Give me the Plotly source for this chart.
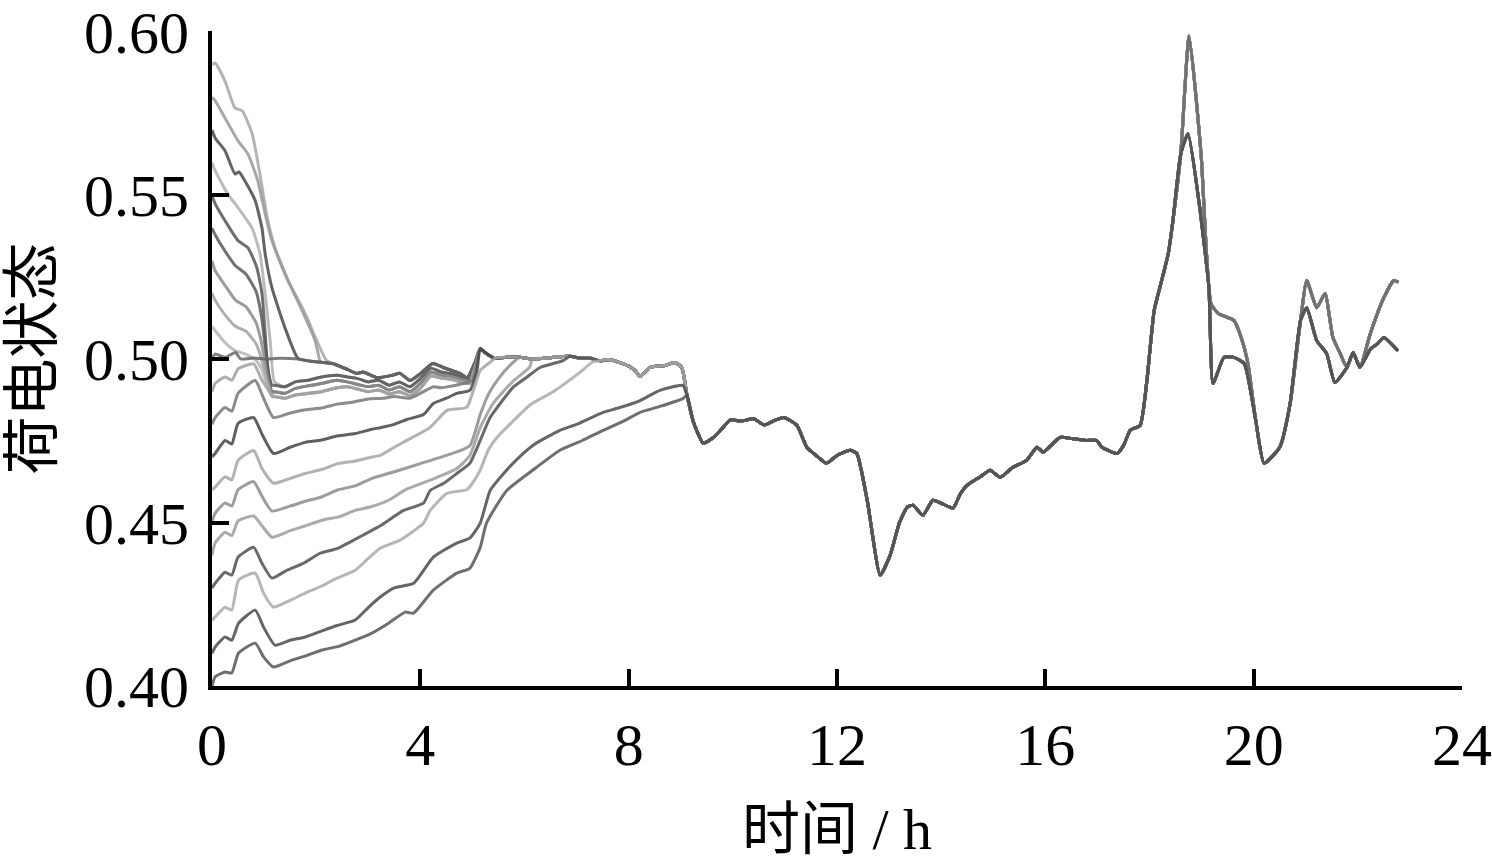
import plotly.graph_objects as go

# ---------------- axis ticks ----------------
x_ticks = [0, 4, 8, 12, 16, 20, 24]
y_ticks = [0.40, 0.45, 0.50, 0.55, 0.60]
y_tick_labels = ["0.40", "0.45", "0.50", "0.55", "0.60"]

# ---------------- shared trajectory (all curves after merging) ----------------
common_t = [5.15, 5.24, 5.43, 5.7, 5.91, 6.15, 6.39, 6.6, 6.87, 7.05, 7.26, 7.45, 7.65, 7.83, 8.0, 8.12,
            8.22, 8.41, 8.55, 8.70, 8.89, 9.02, 9.12, 9.24, 9.43, 9.62, 9.78, 9.95, 10.15, 10.4, 10.6,
            10.8, 10.98, 11.23, 11.42, 11.6, 11.8, 12.0, 12.25, 12.38, 12.58, 12.83, 13.02, 13.2,
            13.35, 13.46, 13.65, 13.84, 14.04, 14.23, 14.36, 14.50, 14.75, 14.94, 15.13, 15.37,
            15.64, 15.84, 15.96, 16.28, 16.53, 16.79, 16.98, 17.09, 17.38, 17.50, 17.63, 17.82,
            17.95, 18.09, 18.25, 18.36, 18.45, 18.60]
common_v = [0.5032, 0.5020, 0.5002, 0.5006, 0.5005, 0.5000, 0.5002, 0.5006, 0.5008, 0.5003, 0.5002,
            0.4995, 0.4998, 0.4989, 0.4978, 0.4965, 0.4947, 0.4974, 0.4978, 0.4980, 0.4989, 0.4974,
            0.4889, 0.4809, 0.4743, 0.4759, 0.4785, 0.4814, 0.4810, 0.4817, 0.4798, 0.4812, 0.4821,
            0.4797, 0.4730, 0.4705, 0.4681, 0.4705, 0.4721, 0.4711, 0.4568, 0.4339, 0.4400, 0.4500,
            0.4547, 0.4553, 0.4522, 0.4568, 0.4556, 0.4544, 0.4585, 0.4614, 0.4640, 0.4660, 0.4638,
            0.4668, 0.4690, 0.4730, 0.4715, 0.4760, 0.4756, 0.4751, 0.4751, 0.4730, 0.4711, 0.4735,
            0.4782, 0.4797, 0.4934, 0.5148, 0.5250, 0.5322, 0.5423, 0.5627]

# evening tails: high-peak group and low-peak group
peak_hi_t = [18.76, 18.99, 19.18, 19.32, 19.62, 19.76, 19.89, 20.04, 20.2, 20.5, 20.7, 20.9, 21.02,
             21.21, 21.37, 21.52, 21.66, 21.79, 21.91, 22.04, 22.24, 22.50, 22.69, 22.78]
peak_hi_v = [0.5988, 0.5627, 0.5169, 0.5139, 0.5118, 0.5066, 0.4986, 0.4812, 0.4681, 0.4730, 0.4864,
             0.5118, 0.5240, 0.5157, 0.5200, 0.5066, 0.5017, 0.4974, 0.5020, 0.4974, 0.5078, 0.5188,
             0.5240, 0.5235]
peak_lo_t = [18.74, 18.95, 19.14, 19.22, 19.43, 19.62, 19.82, 20.04, 20.2, 20.5, 20.7, 20.9, 21.02,
             21.21, 21.40, 21.56, 21.79, 21.91, 22.04, 22.24, 22.38, 22.5, 22.77]
peak_lo_v = [0.5689, 0.5480, 0.5218, 0.4925, 0.5005, 0.5005, 0.4986, 0.4812, 0.4681, 0.4730, 0.4864,
             0.5118, 0.5157, 0.5056, 0.5017, 0.4928, 0.4974, 0.5020, 0.4974, 0.5030, 0.5047, 0.5066,
             0.5025]

# ---------------- converged band around 0.50 (t < 5.15) ----------------
band_top_t = [0, 0.06, 0.25, 0.45, 0.55, 0.8, 1.0, 1.3, 1.65, 1.9, 2.1, 2.32, 2.6, 2.78, 2.9, 3.17,
              3.46, 3.61, 3.80, 4.0, 4.24, 4.44, 4.6, 4.76, 4.90, 5.05]
band_top_v = [0.5000, 0.5015, 0.5005, 0.5020, 0.5000, 0.5003, 0.5000, 0.5002, 0.5000, 0.4993, 0.4990,
              0.4986, 0.4968, 0.4956, 0.4960, 0.4943, 0.4950, 0.4956, 0.4934, 0.4955, 0.4986, 0.4974,
              0.4965, 0.4956, 0.4943, 0.4990]
band_t = [1.2, 1.4, 1.6, 1.85, 2.1, 2.4, 2.6, 2.8, 3.0, 3.2, 3.4, 3.6, 3.8, 4.0, 4.2, 4.4, 4.6, 4.8,
          4.95, 5.05]
band_a_v = [0.4920, 0.4915, 0.4930, 0.4935, 0.4945, 0.4950, 0.4945, 0.4940, 0.4930, 0.4935, 0.4920,
            0.4930, 0.4915, 0.4940, 0.4972, 0.4960, 0.4955, 0.4945, 0.4940, 0.4985]
band_b_v = [0.4900, 0.4895, 0.4910, 0.4918, 0.4925, 0.4935, 0.4930, 0.4922, 0.4915, 0.4920, 0.4905,
            0.4915, 0.4900, 0.4925, 0.4960, 0.4950, 0.4945, 0.4935, 0.4930, 0.4980]
band_c_v = [0.4885, 0.4880, 0.4890, 0.4895, 0.4900, 0.4912, 0.4915, 0.4908, 0.4900, 0.4905, 0.4893,
            0.4900, 0.4888, 0.4910, 0.4948, 0.4942, 0.4938, 0.4928, 0.4925, 0.4975]

# ---------------- early segments, one per initial SOC ----------------
soc059_t = [0, 0.06, 0.25, 0.44, 0.58, 0.77, 0.92, 1.06, 1.21, 1.46, 1.79, 2.0, 2.2]
soc059_v = [0.590, 0.5905, 0.5850, 0.5768, 0.5759, 0.5689, 0.5566, 0.5432, 0.5340, 0.5240, 0.5139,
            0.5060, 0.4995]
soc058_t = [0, 0.06, 0.25, 0.50, 0.69, 0.88, 1.02, 1.15, 1.40, 1.73, 1.98, 2.07]
soc058_v = [0.580, 0.5790, 0.5737, 0.5667, 0.5627, 0.5545, 0.5444, 0.5362, 0.5261, 0.5148, 0.5056,
            0.4995]
soc057_t = [0, 0.06, 0.25, 0.44, 0.52, 0.63, 0.83, 0.96, 1.02, 1.15, 1.40, 1.65]
soc057_v = [0.570, 0.5676, 0.5637, 0.5566, 0.5572, 0.5545, 0.5484, 0.5400, 0.5322, 0.5218, 0.5096,
            0.5002]
soc056_t = [0, 0.06, 0.3, 0.5, 0.77, 0.92, 1.02, 1.12, 1.2]
soc056_v = [0.560, 0.5576, 0.5505, 0.5463, 0.5400, 0.5322, 0.5200, 0.5050, 0.4930]
soc055_t = [0, 0.06, 0.25, 0.50, 0.69, 0.86, 0.96, 1.02, 1.08, 1.15]
soc055_v = [0.550, 0.5475, 0.5423, 0.5362, 0.5340, 0.5280, 0.5200, 0.5078, 0.4960, 0.4920]
soc054_t = [0, 0.06, 0.25, 0.45, 0.65, 0.85, 0.95, 1.05, 1.15]
soc054_v = [0.540, 0.5380, 0.5330, 0.5285, 0.5260, 0.5205, 0.5130, 0.5000, 0.4900]
soc053_t = [0, 0.06, 0.25, 0.45, 0.65, 0.85, 0.95, 1.05, 1.15]
soc053_v = [0.530, 0.5270, 0.5225, 0.5180, 0.5160, 0.5110, 0.5050, 0.4960, 0.4895]
soc052_t = [0, 0.06, 0.25, 0.45, 0.65, 0.85, 0.95, 1.05, 1.15]
soc052_v = [0.520, 0.5180, 0.5135, 0.5100, 0.5085, 0.5045, 0.5000, 0.4935, 0.4885]
soc051_t = [0, 0.06, 0.25, 0.45, 0.65, 0.85, 0.95, 1.05, 1.15]
soc051_v = [0.510, 0.5087, 0.5050, 0.5025, 0.5015, 0.4995, 0.4970, 0.4925, 0.4885]
soc050_t = [0]
soc050_v = [0.500]
soc049_t = [0, 0.06, 0.25, 0.38, 0.5, 0.8, 0.96, 1.18]
soc049_v = [0.490, 0.4925, 0.4945, 0.4935, 0.4970, 0.4985, 0.4935, 0.4885]
soc048_t = [0, 0.06, 0.25, 0.38, 0.5, 0.83, 0.99, 1.18, 1.5, 1.8, 2.1, 2.4, 2.7, 3.0, 3.3, 3.5, 3.8,
            4.0, 4.25, 4.4, 4.75, 5.0]
soc048_v = [0.480, 0.4821, 0.4852, 0.4840, 0.4895, 0.4934, 0.4880, 0.4821, 0.4835, 0.4845, 0.4850,
            0.4862, 0.4868, 0.4878, 0.4880, 0.4885, 0.4880, 0.4895, 0.4915, 0.4912, 0.4922, 0.4935]
soc047_t = [0, 0.06, 0.25, 0.38, 0.5, 0.8, 0.96, 1.18, 1.5, 1.79, 2.1, 2.42, 2.75, 3.07, 3.23, 3.5,
            3.74, 4.06, 4.25, 4.5, 4.70, 4.95, 5.08]
soc047_v = [0.470, 0.4711, 0.4751, 0.4740, 0.4803, 0.4821, 0.4770, 0.4711, 0.4730, 0.4745, 0.4752,
            0.4765, 0.4772, 0.4785, 0.4790, 0.4800, 0.4815, 0.4830, 0.4864, 0.4880, 0.4895, 0.4904,
            0.4956]
soc046_t = [0, 0.06, 0.25, 0.38, 0.5, 0.8, 0.96, 1.18, 1.5, 1.79, 2.1, 2.42, 2.75, 3.07, 3.23, 3.5,
            3.74, 4.19, 4.51, 4.89, 5.02, 5.15, 5.34]
soc046_v = [0.460, 0.4608, 0.4640, 0.4630, 0.4690, 0.4720, 0.4665, 0.4620, 0.4635, 0.4650, 0.4662,
            0.4680, 0.4688, 0.4700, 0.4705, 0.4730, 0.4751, 0.4791, 0.4843, 0.4852, 0.4904, 0.4965,
            0.4990]
soc045_t = [0, 0.06, 0.25, 0.38, 0.5, 0.8, 0.96, 1.15, 1.5, 1.79, 2.1, 2.42, 2.75, 3.07, 3.5, 4.0,
            4.5, 4.95, 5.15, 5.3, 5.5, 5.75]
soc045_v = [0.450, 0.4528, 0.4560, 0.4550, 0.4600, 0.4625, 0.4580, 0.4535, 0.4550, 0.4565, 0.4578,
            0.4600, 0.4612, 0.4635, 0.4655, 0.4680, 0.4705, 0.4735, 0.4830, 0.4890, 0.4940, 0.4985]
soc044_t = [0, 0.06, 0.25, 0.38, 0.5, 0.8, 0.96, 1.15, 1.5, 1.8, 2.11, 2.45, 2.75, 3.05, 3.39, 3.71,
            4.2, 4.7, 4.95, 5.15, 5.4, 5.8, 6.1]
soc044_v = [0.440, 0.4437, 0.4470, 0.4460, 0.4505, 0.4520, 0.4490, 0.4455, 0.4475, 0.4490, 0.4507,
            0.4518, 0.4537, 0.4548, 0.4568, 0.4600, 0.4630, 0.4665, 0.4705, 0.4790, 0.4865, 0.4935,
            0.4975]
soc043_t = [0, 0.06, 0.25, 0.38, 0.5, 0.8, 0.96, 1.15, 1.44, 1.75, 2.08, 2.4, 2.72, 3.0, 3.23, 3.68,
            4.06, 4.19, 4.45, 4.70, 4.95, 5.15, 5.34, 5.78, 6.05, 6.30, 6.74]
soc043_v = [0.430, 0.4314, 0.4348, 0.4339, 0.4394, 0.4424, 0.4375, 0.4330, 0.4354, 0.4375, 0.4406,
            0.4420, 0.4446, 0.4470, 0.4490, 0.4537, 0.4559, 0.4598, 0.4620, 0.4650, 0.4681, 0.4751,
            0.4821, 0.4913, 0.4945, 0.4974, 0.4995]
soc042_t = [0, 0.06, 0.25, 0.38, 0.51, 0.83, 0.99, 1.18, 1.5, 1.79, 2.1, 2.4, 2.75, 3.0, 3.23, 3.61,
            4.06, 4.19, 4.51, 4.89, 5.0, 5.15, 5.3, 5.47, 5.78, 6.11, 6.55, 7.07, 7.3]
soc042_v = [0.420, 0.4211, 0.4241, 0.4232, 0.4324, 0.4345, 0.4284, 0.4241, 0.4262, 0.4284, 0.4305,
            0.4330, 0.4354, 0.4390, 0.4421, 0.4446, 0.4498, 0.4537, 0.4589, 0.4600, 0.4620, 0.4660,
            0.4720, 0.4760, 0.4810, 0.4860, 0.4900, 0.4960, 0.4990]
soc041_t = [0, 0.06, 0.25, 0.38, 0.51, 0.83, 0.99, 1.21, 1.5, 1.79, 2.1, 2.4, 2.75, 3.0, 3.23, 3.5,
            3.87, 4.25, 4.70, 4.95, 5.15, 5.34, 5.6, 5.9, 6.2, 6.68, 7.0, 7.51, 7.8, 8.22, 8.6, 9.04]
soc041_v = [0.410, 0.4119, 0.4150, 0.4140, 0.4192, 0.4232, 0.4180, 0.4125, 0.4140, 0.4150, 0.4168,
            0.4185, 0.4202, 0.4240, 0.4272, 0.4300, 0.4314, 0.4394, 0.4437, 0.4452, 0.4498, 0.4598,
            0.4650, 0.4700, 0.4740, 0.4782, 0.4800, 0.4837, 0.4850, 0.4873, 0.4904, 0.4919]
soc040_t = [0, 0.06, 0.25, 0.38, 0.51, 0.83, 0.99, 1.18, 1.53, 1.8, 2.11, 2.45, 2.75, 3.05, 3.39,
            3.71, 3.87, 4.25, 4.70, 4.95, 5.15, 5.27, 5.66, 6.2, 6.68, 7.1, 7.51, 7.9, 8.22, 8.6, 9.04]
soc040_v = [0.400, 0.4028, 0.4043, 0.4040, 0.4101, 0.4131, 0.4089, 0.4058, 0.4079, 0.4092, 0.4110,
            0.4122, 0.4140, 0.4160, 0.4192, 0.4226, 0.4223, 0.4293, 0.4345, 0.4360, 0.4424, 0.4498,
            0.4598, 0.4665, 0.4721, 0.4750, 0.4782, 0.4810, 0.4837, 0.4855, 0.4879]

# ---------------- assembly ----------------
def follow(ts, vs, path_t, path_v):
    last = ts[-1]
    for t, v in zip(path_t, path_v):
        if t > last + 1e-9:
            ts.append(t)
            vs.append(v)


curves = [
    # (early t, early v, band path or None, tail group, colour)
    (soc059_t, soc059_v, (band_top_t, band_top_v), "hi", "#a8a8a8"),
    (soc058_t, soc058_v, (band_top_t, band_top_v), "hi", "#9a9a9a"),
    (soc057_t, soc057_v, (band_top_t, band_top_v), "hi", "#484848"),
    (soc056_t, soc056_v, (band_t, band_a_v), "hi", "#b0b0b0"),
    (soc055_t, soc055_v, (band_t, band_a_v), "hi", "#555555"),
    (soc054_t, soc054_v, (band_t, band_b_v), "hi", "#5a5a5a"),
    (soc053_t, soc053_v, (band_t, band_b_v), "hi", "#8a8a8a"),
    (soc052_t, soc052_v, (band_t, band_c_v), "hi", "#a0a0a0"),
    (soc051_t, soc051_v, (band_t, band_c_v), "hi", "#b5b5b5"),
    (soc050_t, soc050_v, (band_top_t, band_top_v), "hi", "#666666"),
    (soc049_t, soc049_v, (band_t, band_c_v), "lo", "#a0a0a0"),
    (soc048_t, soc048_v, None, "lo", "#777777"),
    (soc047_t, soc047_v, None, "lo", "#454545"),
    (soc046_t, soc046_v, None, "lo", "#a5a5a5"),
    (soc045_t, soc045_v, None, "lo", "#8c8c8c"),
    (soc044_t, soc044_v, None, "lo", "#9c9c9c"),
    (soc043_t, soc043_v, None, "lo", "#505050"),
    (soc042_t, soc042_v, None, "lo", "#aaaaaa"),
    (soc041_t, soc041_v, None, "lo", "#4c4c4c"),
    (soc040_t, soc040_v, None, "lo", "#555555"),
]

fig = go.Figure()
for early_t, early_v, band, group, colour in curves:
    ts, vs = list(early_t), list(early_v)
    if band is not None:
        follow(ts, vs, band[0], band[1])
    follow(ts, vs, common_t, common_v)
    if group == "hi":
        follow(ts, vs, peak_hi_t, peak_hi_v)
    else:
        follow(ts, vs, peak_lo_t, peak_lo_v)
    fig.add_trace(go.Scatter(x=ts, y=vs, mode="lines",
                             line=dict(color=colour, width=3.0, shape="spline", smoothing=0.5),
                             opacity=0.85, hoverinfo="skip", showlegend=False))

serif = "Liberation Serif, 'Times New Roman', 'Noto Sans CJK SC', serif"
fig.update_layout(
    template="none",
    width=1492, height=867,
    margin=dict(l=212, r=30, t=31, b=181),
    paper_bgcolor="white", plot_bgcolor="white",
    font=dict(family=serif, color="black"),
    xaxis=dict(range=[0, 24], tickvals=x_ticks, ticks="inside", ticklen=17, tickwidth=4,
               tickcolor="black", showline=True, linewidth=4, linecolor="black",
               showgrid=False, zeroline=False, automargin=False,
               tickfont=dict(size=60, family=serif), ticklabelstandoff=3,
               ticklabeloverflow="allow",
               title=dict(text="时间 / h", font=dict(size=58, family=serif), standoff=32)),
    yaxis=dict(range=[0.40, 0.6003], tickvals=y_ticks, ticktext=y_tick_labels, ticks="inside",
               ticklen=17, tickwidth=4, tickcolor="black", showline=True, linewidth=4,
               linecolor="black", showgrid=False, zeroline=False, automargin=False,
               tickfont=dict(size=60, family=serif), ticklabelstandoff=7,
               ticklabeloverflow="allow",
               title=dict(text="荷电状态", font=dict(size=58, family=serif), standoff=14)),
)

fig.write_html("out.html", config={"displayModeBar": False},
               post_script="document.body.style.margin='0';")
